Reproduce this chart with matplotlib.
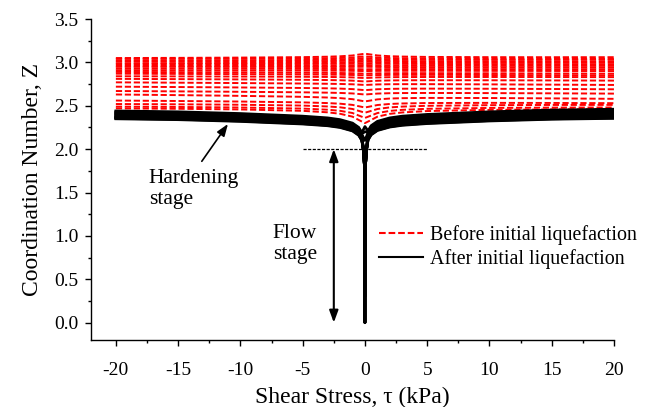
import numpy as np
import matplotlib
matplotlib.use("Agg")
import matplotlib.pyplot as plt
from matplotlib.ticker import MultipleLocator, FormatStrFormatter
from matplotlib.lines import Line2D

plt.rcParams['font.family'] = ['Liberation Serif', 'DejaVu Serif']
plt.rcParams['axes.unicode_minus'] = False

# ---------------- data ----------------
# red (before initial liquefaction) sweeps: Z at tau=-20, tau=+20 and at tau=0
red_left = [3.05, 3.04, 3.02, 3.01, 2.99, 2.98, 2.96, 2.95, 2.93, 2.91, 2.89, 2.87,
            2.84, 2.81, 2.77, 2.72, 2.67, 2.63, 2.56, 2.52, 2.49, 2.47]
red_right = [3.06, 3.04, 3.03, 3.01, 3.00, 2.98, 2.96, 2.94, 2.92, 2.90, 2.87, 2.85,
             2.83, 2.79, 2.74, 2.69, 2.64, 2.58, 2.53, 2.51, 2.48, 2.46]
red_center = [3.10, 3.07, 3.05, 3.03, 3.01, 2.99, 2.97, 2.95, 2.92, 2.90, 2.87, 2.85,
              2.82, 2.78, 2.74, 2.68, 2.63, 2.55, 2.48, 2.42, 2.36, 2.30]
# shape of the dip around tau = 0 (fraction of the centre deviation)
red_tau = [-20, -15, -10, -5, -3, -2, -1, -0.5, 0, 0.5, 1, 2, 3, 5, 10, 15, 20]
red_shape = [0, 0.02, 0.06, 0.15, 0.25, 0.35, 0.55, 0.78, 1.0, 0.78, 0.55, 0.35, 0.25, 0.15, 0.06, 0.02, 0]

# black (after initial liquefaction) sweeps
black_left = [2.44, 2.43, 2.42, 2.41, 2.40, 2.39, 2.38, 2.37, 2.365, 2.36, 2.355, 2.35]
black_right = [2.46, 2.45, 2.44, 2.43, 2.42, 2.41, 2.40, 2.39, 2.38, 2.37, 2.36, 2.355]
black_min = [2.26, 2.20, 2.10, 1.95, 1.70, 1.40, 1.00, 0.60, 0.30, 0.0, 0.0, 0.0]
# hardening branch: drop below end level at |tau|
hard_tau = [20, 15, 10, 5, 3, 2, 1, 0.5, 0.25]
hard_drop = [0.0, 0.01, 0.03, 0.06, 0.08, 0.10, 0.14, 0.19, 0.25]
# flow spike: Z levels and half widths in tau
spike_z = [2.0, 1.8, 1.0, 0.0]
spike_hw = [0.13, 0.03, 0.01, 0.0]

# annotations
dash_z = 2.0
dash_tau = [-5, 5]
flow_arrow_tau = -2.5
flow_arrow_z = [2.0, 0.0]
hard_arrow_from = (-13.1, 1.86)
hard_arrow_to = (-11.0, 2.29)

x_ticks = [-20, -15, -10, -5, 0, 5, 10, 15, 20]
y_ticks = [0.0, 0.5, 1.0, 1.5, 2.0, 2.5, 3.0, 3.5]

# ---------------- figure ----------------
fig = plt.figure(figsize=(6.47, 4.07), dpi=100)
ax = fig.add_axes([0.1406, 0.1646, 0.8084, 0.7887])

red_tau_a = np.array(red_tau)
red_shape_a = np.array(red_shape)
for l, r, c in zip(red_left, red_right, red_center):
    base = l + (r - l) * (red_tau_a + 20) / 40.0
    mid = (l + r) / 2.0
    z = base + (c - mid) * red_shape_a
    ax.plot(red_tau_a, z, color='red', lw=1.4, ls='--', dashes=(3.2, 1.4))

for l, r, m in zip(black_left, black_right, black_min):
    taus = []
    zs = []
    for t, d in zip(hard_tau, hard_drop):
        taus.append(-t)
        zs.append(l - d)
    for sz, hw in zip(spike_z, spike_hw):
        if sz > m and hw > 0:
            taus.append(-hw)
            zs.append(sz)
    taus.append(0.0)
    zs.append(m)
    for sz, hw in reversed(list(zip(spike_z, spike_hw))):
        if sz > m and hw > 0:
            taus.append(hw)
            zs.append(sz)
    for t, d in reversed(list(zip(hard_tau, hard_drop))):
        taus.append(t)
        zs.append(r - d)
    ax.plot(taus, zs, color='black', lw=2.0)

# horizontal dashed reference line
ax.plot(dash_tau, [dash_z, dash_z], color='black', lw=0.9, ls='--', dashes=(2.5, 1.2))

# flow stage double arrow
ax.annotate('', xy=(flow_arrow_tau, flow_arrow_z[1]), xytext=(flow_arrow_tau, flow_arrow_z[0]),
            arrowprops=dict(arrowstyle='<|-|>,head_length=0.6,head_width=0.22', lw=1.5,
                            color='black', shrinkA=0, shrinkB=0, mutation_scale=12))
# hardening arrow
ax.annotate('', xy=hard_arrow_to, xytext=hard_arrow_from,
            arrowprops=dict(arrowstyle='-|>,head_length=0.6,head_width=0.22', lw=1.2,
                            color='black', shrinkA=0, shrinkB=0, mutation_scale=12))

ax.text(-17.35, 1.54, 'Hardening\nstage', fontsize=15.5, ha='left', va='center', linespacing=1.15)
ax.text(-7.4, 0.91, 'Flow\nstage', fontsize=15.5, ha='left', va='center', linespacing=1.15)

handles = [Line2D([], [], color='red', lw=1.5, ls='--', dashes=(3.2, 1.4)),
           Line2D([], [], color='black', lw=1.5)]
ax.legend(handles, ['Before initial liquefaction', 'After initial liquefaction'],
          loc='upper left', bbox_to_anchor=(0.551, 0.357), frameon=False,
          fontsize=14.4, handlelength=2.2, handletextpad=0.35, labelspacing=0.2,
          borderpad=0, borderaxespad=0)

ax.set_xlim(-22, 20)
ax.set_ylim(-0.2, 3.5)
ax.set_xticks(x_ticks)
ax.set_yticks(y_ticks)
ax.xaxis.set_minor_locator(MultipleLocator(2.5))
ax.yaxis.set_minor_locator(MultipleLocator(0.25))
ax.yaxis.set_major_formatter(FormatStrFormatter('%.1f'))
ax.spines['top'].set_visible(False)
ax.spines['right'].set_visible(False)
ax.spines['left'].set_linewidth(1.0)
ax.spines['bottom'].set_linewidth(1.0)
ax.tick_params(which='major', direction='out', length=4, width=1.0, labelsize=14)
ax.tick_params(which='minor', direction='out', length=2.3, width=1.0)
ax.tick_params(axis='x', pad=11.5)
ax.tick_params(axis='y', pad=5)

ax.set_xlabel('Shear Stress, τ (kPa)', fontsize=17, labelpad=6)
ax.set_ylabel('Coordination Number, Z', fontsize=17, labelpad=8)

fig.savefig('out.png', dpi=100)
